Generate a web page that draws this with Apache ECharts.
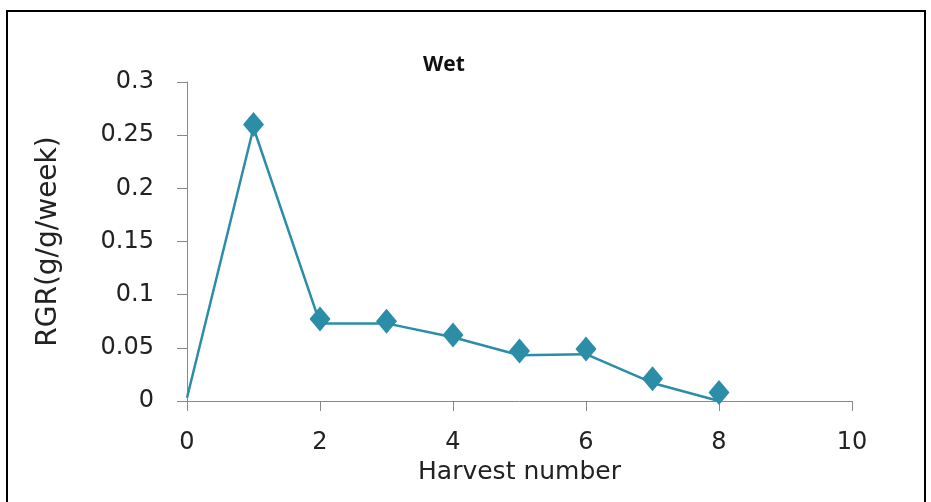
<!DOCTYPE html>
<html>
<head>
<meta charset="utf-8">
<title>Wet</title>
<style>
  html, body { margin: 0; height: 100%; background: #fff; }
  #main { width: 931px; height: 502px; }
</style>
</head>
<body>
<div id="main"></div>
<script src="https://cdn.jsdelivr.net/npm/echarts@6/dist/echarts.min.js"></script>
<script>
  // harvest number and RGR
  var harvests = [1, 2, 3, 4, 5, 6, 7, 8];
  var markerValues = [0.26, 0.077, 0.075, 0.062, 0.047, 0.049, 0.021, 0.008];
  // the connecting line in the original sits a little off the markers
  var lineHarvests = [0, 1, 2, 3, 4, 5, 6, 7, 8];
  var lineValues = [0.003, 0.257, 0.073, 0.073, 0.06, 0.043, 0.044, 0.017, 0];
  var xTicks = [0, 2, 4, 6, 8, 10];
  var yTicks = [0, 0.05, 0.1, 0.15, 0.2, 0.25, 0.3];

  var teal = '#2b8ea6';
  var font = "'DejaVu Sans', sans-serif";

  function pairs(xs, ys) {
    var out = [];
    for (var i = 0; i < xs.length; i++) {
      out.push([xs[i], ys[i]]);
    }
    return out;
  }

  var myChart = echarts.init(document.getElementById('main'));
  var option = {
    animation: false,
    title: {
      text: 'Wet',
      left: 418,
      top: 50,
      textStyle: { fontSize: 21, fontWeight: 'bold', color: '#111', fontFamily: 'Open Sans' }
    },
    grid: { left: 187, right: 79, top: 82, bottom: 101 },
    xAxis: {
      type: 'value',
      min: xTicks[0],
      max: xTicks[xTicks.length - 1],
      interval: 2,
      name: 'Harvest number',
      nameLocation: 'middle',
      nameGap: 57,
      nameTextStyle: { fontSize: 25, color: '#222', fontFamily: font },
      axisLine: { lineStyle: { color: '#888', width: 1 } },
      axisTick: { length: 10, lineStyle: { color: '#888' } },
      axisLabel: { margin: 30, fontSize: 24, color: '#222', fontFamily: font },
      splitLine: { show: false }
    },
    yAxis: {
      type: 'value',
      min: yTicks[0],
      max: yTicks[yTicks.length - 1],
      interval: 0.05,
      name: 'RGR(g/g/week)',
      nameLocation: 'middle',
      nameGap: 124,
      nameRotate: 90,
      nameTextStyle: { fontSize: 28, color: '#222', fontFamily: font },
      axisLine: { show: true, lineStyle: { color: '#888', width: 1 } },
      axisTick: { show: true, length: 10, lineStyle: { color: '#888' } },
      axisLabel: { margin: 33, fontSize: 24, color: '#222', fontFamily: font },
      splitLine: { show: false }
    },
    graphic: [{
      type: 'rect',
      shape: { x: 7, y: 11, width: 918, height: 520 },
      style: { fill: 'none', stroke: '#000', lineWidth: 2 },
      silent: true
    }],
    series: [{
      name: 'line',
      type: 'line',
      data: pairs(lineHarvests, lineValues),
      showSymbol: false,
      symbol: 'none',
      lineStyle: { color: teal, width: 2.5 },
      z: 2
    }, {
      name: 'RGR',
      type: 'scatter',
      data: pairs(harvests, markerValues),
      symbol: 'diamond',
      symbolSize: [21, 25],
      itemStyle: { color: teal, opacity: 1 },
      z: 3
    }]
  };
  myChart.setOption(option);
</script>
</body>
</html>
